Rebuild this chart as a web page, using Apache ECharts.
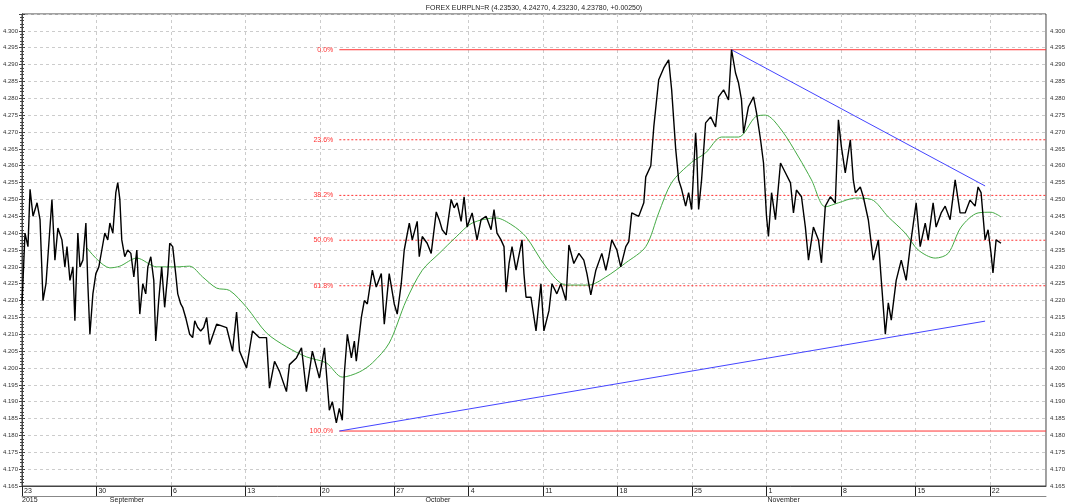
<!DOCTYPE html>
<html><head><meta charset="utf-8">
<script src="https://cdn.jsdelivr.net/npm/echarts@6/dist/echarts.min.js"></script>
<style>html,body{margin:0;padding:0;background:#fff}#c{width:1068px;height:504px}</style>
</head><body><div id="c"></div>
<script>
const title = "FOREX EURPLN=R (4.23530, 4.24270, 4.23230, 4.23780, +0.00250)";
const weekTicks = [0,5,10,15,20,25,30,35,40,45,50,55,60,65];
const weekLabels = ["23","30","6","13","20","27","4","11","18","25","1","8","15","22"];
const monthTicks = [0,5.9,27.1,50.07];
const monthLabels = ["2015","September","October","November"];
// x = trading day index, y = price
const priceDays = [0,0.2,0.4,0.54,0.74,1.01,1.21,1.41,1.61,1.74,2.01,2.21,2.41,2.68,2.88,3.02,3.22,3.42,3.55,3.75,3.89,4.09,4.29,4.42,4.56,4.76,4.96,5.16,5.36,5.56,5.76,5.9,6.1,6.3,6.43,6.57,6.7,6.9,7.1,7.31,7.51,7.71,7.91,8.11,8.31,8.45,8.65,8.85,8.98,9.18,9.38,9.58,9.79,9.92,10.12,10.32,10.46,10.66,10.79,10.99,11.26,11.46,11.6,11.8,12,12.2,
12.4,12.6,13.07,13.74,14.14,14.41,14.61,15.08,15.48,15.95,16.42,16.62,16.96,17.29,17.76,17.96,18.43,18.77,19.1,19.5,19.97,20.31,20.64,20.84,21.11,
21.31,21.51,21.65,21.85,22.12,22.32,22.45,22.79,22.99,23.19,23.53,23.79,24.13,24.33,24.66,25,25.2,25.47,25.67,26.01,26.21,26.54,26.68,26.88,27.21,27.48,27.82,28.02,28.22,28.49,28.82,29.02,29.22,29.49,29.69,29.89,30.23,30.56,30.83,31.17,31.5,31.7,31.9,32.17,32.37,32.51,32.71,32.91,33.18,33.58,33.71,33.85,34.18,34.52,34.85,35.05,35.39,35.59,35.92,36.19,36.53,36.73,37.06,37.4,37.73,37.94,38.2,38.54,38.94,39.21,39.41,39.61,39.95,40.21,40.55,40.75,40.95,41.42,41.76,41.89,42.23,42.43,42.76,43.1,43.43,43.63,43.9,44.1,44.3,44.57,44.77,44.97,45.24,
45.31,45.44,45.64,45.91,46.25,46.58,46.78,47.12,47.45,47.65,47.92,48.12,48.32,48.46,48.79,49.13,49.33,49.6,49.8,50,50.13,50.34,50.6,50.94,51.27,51.61,51.81,52.01,52.35,52.61,52.82,53.15,53.49,53.69,53.95,54.29,54.62,54.83,55.03,55.29,55.63,55.83,55.97,56.3,56.5,56.84,57.17,57.51,57.71,57.98,58.18,58.38,58.71,59.05,59.38,59.65,60.05,60.32,60.66,60.86,61.19,61.39,61.73,62,62.33,62.67,63,63.34,63.67,64.01,64.21,64.41,64.68,64.88,65.08,65.21,65.42,65.75];
const prices = [4.219,4.240,4.236,4.253,4.245,4.249,4.244,4.220,4.225,4.233,4.250,4.232,4.2415,4.238,4.230,4.236,4.226,4.230,4.214,4.240,4.230,4.232,4.243,4.225,4.210,4.222,4.228,4.230,4.235,4.240,4.238,4.243,4.240,4.252,4.255,4.250,4.238,4.233,4.235,4.234,4.227,4.235,4.216,4.225,4.222,4.230,4.233,4.226,4.208,4.220,4.230,4.218,4.228,4.237,4.236,4.228,4.222,4.219,4.218,4.215,4.210,4.209,4.214,4.212,4.211,4.212,
4.215,4.207,4.213,4.212,4.205,4.2166,4.205,4.200,4.211,4.209,4.209,4.194,4.202,4.199,4.193,4.201,4.203,4.206,4.193,4.205,4.197,4.206,4.1875,4.190,4.1837,
4.188,4.1845,4.1985,4.210,4.203,4.208,4.202,4.215,4.220,4.219,4.229,4.224,4.228,4.213,4.228,4.219,4.216,4.225,4.235,4.243,4.238,4.2435,4.233,4.239,4.237,4.234,4.2463,4.244,4.241,4.2395,4.250,4.2475,4.249,4.2435,4.2508,4.2418,4.246,4.238,4.244,4.245,4.241,4.247,4.240,4.238,4.236,4.2225,4.231,4.236,4.229,4.238,4.228,4.221,4.221,4.211,4.225,4.211,4.217,4.225,4.222,4.225,4.220,4.2365,4.231,4.234,4.232,4.228,4.2217,4.229,4.234,4.229,4.233,4.238,4.235,4.230,4.236,4.2375,4.246,4.245,4.249,4.2567,4.260,4.2715,4.2855,4.289,4.2914,4.2825,4.265,4.2558,4.253,4.248,4.252,4.247,4.2697,
4.2647,4.247,4.2558,4.2727,4.2745,4.2715,4.2804,4.2825,4.2795,4.2944,4.2875,4.2846,4.2795,4.2697,4.2775,4.2804,4.2757,4.2677,4.2608,4.245,4.239,4.252,4.244,4.2608,4.2579,4.2549,4.246,4.2528,4.2508,4.2418,4.232,4.2418,4.238,4.2312,4.248,4.2508,4.2489,4.2736,4.2656,4.2579,4.2677,4.2558,4.252,4.2537,4.2508,4.2439,4.232,4.238,4.226,4.210,4.2193,4.2142,4.226,4.232,4.226,4.236,4.249,4.236,4.243,4.238,4.249,4.2418,4.246,4.248,4.244,4.2558,4.246,4.246,4.2498,4.248,4.2537,4.252,4.238,4.241,4.234,4.2282,4.238,4.237];
const maDays = [4.36,5.9,6.57,7.71,9.05,10.39,11.26,12.13,13.07,13.94,15.08,16.42,17.76,19.1,20.44,21.51,22.65,23.53,24.66,25.8,26.88,28.02,29.16,30.23,31.84,32.91,33.85,35.19,36.53,38.07,39.21,40.55,41.89,42.76,43.63,44.97,45.91,46.98,48.12,49.26,49.93,51.0,52.15,53.02,53.95,54.83,55.97,57.04,58.18,59.32,60.19,61.33,62.2,63.07,64.21,65.08,65.75];
const maValues = [4.2356,4.2297,4.2302,4.2326,4.2300,4.2300,4.2302,4.2270,4.2237,4.2230,4.2180,4.2104,4.2063,4.2033,4.2015,4.1973,4.1988,4.2015,4.2074,4.2200,4.2290,4.2340,4.2389,4.2430,4.2445,4.2424,4.2389,4.2300,4.2246,4.2246,4.2270,4.2312,4.2360,4.2460,4.2550,4.2610,4.2638,4.2685,4.2685,4.2745,4.2750,4.2706,4.2626,4.2558,4.2478,4.2490,4.2504,4.2500,4.2448,4.2400,4.2350,4.2326,4.2340,4.2418,4.2460,4.2462,4.2448];
const fibLevels = [4.2944,4.2677,4.2512,4.2379,4.2244,4.1813];
const fibNames = ["0.0%","23.6%","38.2%","50.0%","61.8%","100.0%"];
const fibStart = 21.31, fibEnd = 68.77;
const trendUpper = [[47.65,4.2944],[64.68,4.2540]];
const trendLower = [[21.31,4.1813],[64.68,4.2139]];
const XMAX = 68.77;

const n = Math.min(priceDays.length, prices.length);
const black = priceDays.slice(0,n).map((d,i)=>[d,prices[i]]);
const m = Math.min(maDays.length, maValues.length);
const ma = maDays.slice(0,m).map((d,i)=>[d,maValues[i]]);
const fibSeries = fibLevels.map((p,i)=>({
  type:'line', silent:true, symbol:'circle', symbolSize:0.1, showSymbol:true, animation:false,
  itemStyle:{color:'#ff3333'},
  lineStyle:{color:'#ff3333', width:1, type:(i===0||i===5)?'solid':[2,2]},
  data:[{value:[fibStart,p], label:{show:true, position:'left', distance:6, formatter:fibNames[i], color:'#ff3333', fontSize:7, fontFamily:'Liberation Sans'}},[fibEnd,p]],
  z:5
}));
const yLabelFmt = v => v.toFixed(3);
const chart = echarts.init(document.getElementById('c'));
chart.setOption({
  animation:false,
  backgroundColor:'#fff',
  title:{text:title, left:'center', top:0, textStyle:{fontSize:7, fontWeight:'normal', color:'#222', fontFamily:'Liberation Sans'}},
  grid:{left:22, right:20, top:14, bottom:18, show:true, borderColor:'#444', borderWidth:1},
  xAxis:[{
    type:'value', min:0, max:XMAX, position:'bottom', interval:5,
    axisLine:{lineStyle:{color:'#444'}},
    axisTick:{customValues:weekTicks, inside:false, length:10, lineStyle:{color:'#222'}},
    axisLabel:{customValues:weekTicks, formatter:v=>weekLabels[weekTicks.indexOf(v)]??'', align:'left', margin:2, padding:[0,0,0,2], fontSize:7, color:'#222', fontFamily:'Liberation Sans'},
    splitLine:{show:true, lineStyle:{color:'#cccccc', type:[3,3]}}
  },{
    type:'value', min:0, max:XMAX, position:'bottom', offset:10,
    axisLine:{show:true, lineStyle:{color:'#888'}},
    axisTick:{show:false},
    axisLabel:{customValues:monthTicks, formatter:v=>monthLabels[monthTicks.indexOf(v)]??'', align:'left', margin:1, fontSize:7, color:'#222', fontFamily:'Liberation Sans'},
    splitLine:{show:false}
  }],
  yAxis:[{
    type:'value', min:4.165, max:4.305, interval:0.005, position:'left',
    axisLine:{show:true, lineStyle:{color:'#444'}},
    axisTick:{show:true, length:3}, minorTick:{show:true, splitNumber:5, length:2},
    axisLabel:{formatter:yLabelFmt, showMaxLabel:false, fontSize:6, color:'#333', margin:4, fontFamily:'Liberation Sans'},
    splitLine:{show:true, lineStyle:{color:'#cccccc', type:[3,3]}}
  },{
    type:'value', min:4.165, max:4.305, interval:0.005, position:'right',
    axisLine:{show:true, lineStyle:{color:'#444'}},
    axisTick:{show:true, length:3}, minorTick:{show:true, splitNumber:5, length:2},
    axisLabel:{formatter:yLabelFmt, showMaxLabel:false, fontSize:6, color:'#333', margin:4, fontFamily:'Liberation Sans'},
    splitLine:{show:false}
  }],
  series:[
    ...fibSeries,
    {type:'line', symbol:'none', data:trendUpper, lineStyle:{color:'#4444ff', width:1}, z:6},
    {type:'line', symbol:'none', data:trendLower, lineStyle:{color:'#4444ff', width:1}, z:6},
    {type:'line', symbol:'none', data:ma, smooth:0.3, lineStyle:{color:'#44aa44', width:1}, z:7},
    {type:'line', symbol:'none', data:black, lineStyle:{color:'#000', width:1.4}, z:8}
  ]
});
</script></body></html>
